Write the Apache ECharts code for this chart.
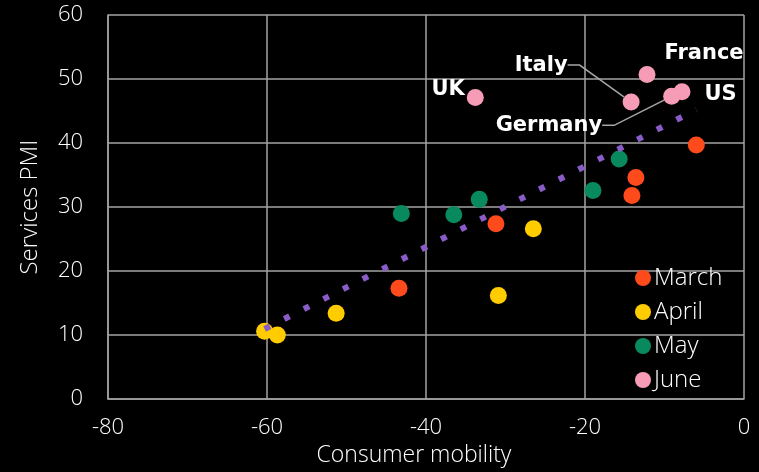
<!DOCTYPE html>
<html>
<head>
<meta charset="utf-8">
<script src="https://cdn.jsdelivr.net/npm/echarts@6/dist/echarts.min.js"></script>
<style>
  html, body { margin: 0; padding: 0; background: #000; }
  #chart { width: 759px; height: 472px; }
</style>
</head>
<body>
<div id="chart"></div>
<script>
// Consumer mobility (x) vs services PMI (y), by month
const months = ['March', 'April', 'May', 'June'];

const marchMobility = [-6.0, -13.6, -14.1, -31.2, -43.4];
const marchPMI      = [39.7, 34.6, 31.8, 27.4, 17.3];

const aprilMobility = [-60.3, -58.7, -51.3, -30.9, -26.5];
const aprilPMI      = [10.6, 10.0, 13.4, 16.2, 26.6];

const mayMobility   = [-43.1, -36.5, -33.3, -19.0, -15.7];
const mayPMI        = [29.0, 28.8, 31.2, 32.6, 37.5];

const juneCountries = ['UK', 'Italy', 'France', 'Germany', 'US'];
const juneMobility  = [-33.8, -14.2, -12.2, -9.1, -7.8];
const junePMI       = [47.1, 46.4, 50.7, 47.3, 48.0];

const xTicks = { min: -80, max: 0, interval: 20 };
const yTicks = { min: 0, max: 60, interval: 10 };

const monthColors = ['#FF4A1C', '#FFCC00', '#088A5E', '#F79CB6'];
const trendColor = '#8A5CC7';
const gridColor = '#A3A3A3';
const labelFont = '"Open Sans", Lato, sans-serif';
const labelWeight = 300;

const pairs = (xs, ys) => xs.map((x, i) => [x, ys[i]]);

// Country label placement for the June points
const countryLabel = {
  UK:      { position: 'left', distance: 2 },
  France:  { position: 'top', distance: 5 },
  US:      { position: 'right', distance: 14 },
  Italy:   { position: 'left', distance: 5, padding: [0, 10, 0, 0] },
  Germany: { position: 'left', distance: 5, padding: [0, 10, 0, 0] }
};
const labelShift = {
  UK:      { dx: 0, dy: -8 },
  France:  { dx: 57, dy: 3 },
  US:      { dx: 0, dy: 3 },
  Italy:   { dx: -40, dy: -37 },
  Germany: { dx: -46, dy: 29 }
};
const withLeader = ['Italy', 'Germany'];

const juneData = juneCountries.map((name, i) => {
  const item = { name: name, value: [juneMobility[i], junePMI[i]], label: countryLabel[name] };
  if (withLeader.indexOf(name) >= 0) {
    item.labelLine = { show: true, length2: 12, lineStyle: { color: '#A6A6A6', width: 1.5 } };
  }
  return item;
});

// Least-squares trend line over all points
const allX = [].concat(marchMobility, aprilMobility, mayMobility, juneMobility);
const allY = [].concat(marchPMI, aprilPMI, mayPMI, junePMI);
const n = allX.length;
const mx = allX.reduce((a, b) => a + b, 0) / n;
const my = allY.reduce((a, b) => a + b, 0) / n;
let sxy = 0, sxx = 0;
for (let i = 0; i < n; i++) {
  sxy += (allX[i] - mx) * (allY[i] - my);
  sxx += (allX[i] - mx) * (allX[i] - mx);
}
const slope = sxy / sxx;
const intercept = my - slope * mx;
const xLo = Math.min.apply(null, allX);
const xHi = Math.max.apply(null, allX);
const trendData = [[xLo, intercept + slope * xLo], [xHi, intercept + slope * xHi]];

const pointSeries = (name, data, color, extra) => Object.assign({
  name: name,
  type: 'scatter',
  data: data,
  symbol: 'circle',
  symbolSize: 17,
  itemStyle: { color: color, opacity: 1 },
  z: 3
}, extra || {});

const chart = echarts.init(document.getElementById('chart'), null, { renderer: 'canvas' });

chart.setOption({
  backgroundColor: '#000',
  animation: false,
  grid: { left: 108, right: 15, top: 15, bottom: 72, containLabel: false },
  legend: {
    data: months,
    orient: 'vertical',
    left: 630,
    top: 261,
    icon: 'circle',
    itemWidth: 16,
    itemHeight: 16,
    itemGap: 10,
    textStyle: { color: '#fff', fontSize: 24, fontWeight: labelWeight, fontFamily: labelFont, padding: [0, 0, 0, -2] }
  },
  xAxis: {
    type: 'value',
    min: xTicks.min, max: xTicks.max, interval: xTicks.interval,
    name: 'Consumer mobility',
    nameLocation: 'middle',
    nameGap: 42,
    nameTextStyle: { color: '#fff', fontSize: 23, fontWeight: labelWeight, fontFamily: labelFont, padding: [0, 24, 0, 0] },
    axisLine: { show: true, onZero: false, lineStyle: { color: gridColor, width: 1.5 } },
    axisTick: { show: false },
    axisLabel: { color: '#fff', fontSize: 22, fontWeight: labelWeight, fontFamily: labelFont, margin: 18 },
    splitLine: { show: true, lineStyle: { color: gridColor, width: 1.5 } }
  },
  yAxis: {
    type: 'value',
    min: yTicks.min, max: yTicks.max, interval: yTicks.interval,
    name: 'Services PMI',
    nameLocation: 'middle',
    nameGap: 66,
    nameTextStyle: { color: '#fff', fontSize: 24, fontWeight: labelWeight, fontFamily: labelFont },
    axisLine: { show: true, onZero: false, lineStyle: { color: gridColor, width: 1.5 } },
    axisTick: { show: false },
    axisLabel: { color: '#fff', fontSize: 22, fontWeight: labelWeight, fontFamily: labelFont, margin: 25 },
    splitLine: { show: true, lineStyle: { color: gridColor, width: 1.5 } }
  },
  series: [
    pointSeries('March', pairs(marchMobility, marchPMI), monthColors[0]),
    pointSeries('April', pairs(aprilMobility, aprilPMI), monthColors[1]),
    pointSeries('May', pairs(mayMobility, mayPMI), monthColors[2]),
    pointSeries('June', juneData, monthColors[3], {
      label: {
        show: true,
        formatter: '{b}',
        color: '#fff',
        fontSize: 21,
        fontWeight: 'bold',
        fontFamily: '"DejaVu Sans", sans-serif'
      },
      labelLayout: function (params) {
        const s = labelShift[params.text];
        return s ? { dx: s.dx, dy: s.dy } : {};
      }
    }),
    {
      name: 'Trend',
      type: 'line',
      data: trendData,
      symbol: 'none',
      silent: true,
      z: 4,
      lineStyle: { color: trendColor, width: 6, type: [6, 16], cap: 'butt' }
    }
  ]
});
</script>
</body>
</html>
